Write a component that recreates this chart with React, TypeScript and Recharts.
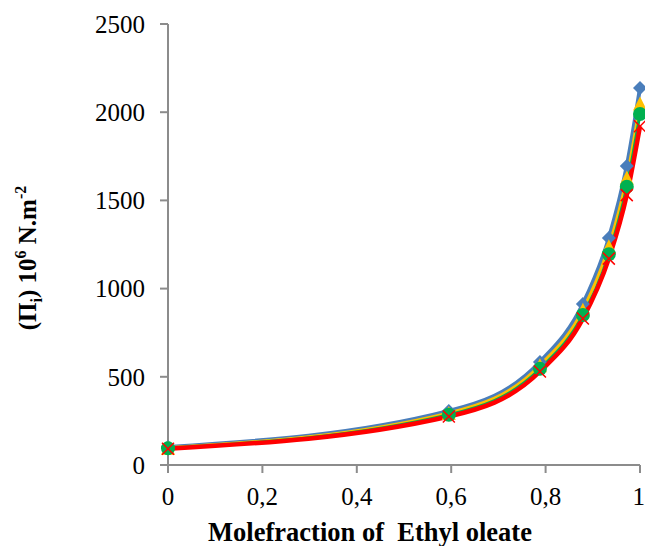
import { LineChart, Line, XAxis, YAxis, Label } from "recharts";

const molefraction = [0, 0.595, 0.788, 0.879, 0.934, 0.972, 1];
const seriesBlue = [102, 306, 584, 913, 1287, 1695, 2137];
const seriesYellow = [98, 295, 565, 880, 1240, 1630, 2050];
const seriesGreen = [95, 285, 545, 850, 1195, 1578, 1990];
const seriesRed = [92, 275, 530, 830, 1170, 1530, 1920];

const xTicks = [0, 0.2, 0.4, 0.6, 0.8, 1];
const yTicks = [0, 500, 1000, 1500, 2000, 2500];

const data = molefraction.map((x, i) => ({
  x,
  blue: seriesBlue[i],
  yellow: seriesYellow[i],
  green: seriesGreen[i],
  red: seriesRed[i],
}));

const FONT = '"Liberation Serif", "DejaVu Serif", serif';
const AXIS = "#8c8c8c";

const Diamond = (p: any) => {
  const { cx, cy } = p;
  if (cx == null || cy == null) return null;
  const s = 7;
  return <path d={`M${cx},${cy - s}L${cx + s},${cy}L${cx},${cy + s}L${cx - s},${cy}Z`} fill="#4a7ebb" />;
};

const Triangle = (p: any) => {
  const { cx, cy } = p;
  if (cx == null || cy == null) return null;
  const s = 7;
  return <path d={`M${cx},${cy - s}L${cx + s},${cy + s}L${cx - s},${cy + s}Z`} fill="#ffc000" />;
};

const Circle = (p: any) => {
  const { cx, cy } = p;
  if (cx == null || cy == null) return null;
  return <circle cx={cx} cy={cy} r={7} fill="#00b050" />;
};

const Cross = (p: any) => {
  const { cx, cy } = p;
  if (cx == null || cy == null) return null;
  const s = 6;
  return (
    <path
      d={`M${cx - s},${cy - s}L${cx + s},${cy + s}M${cx - s},${cy + s}L${cx + s},${cy - s}`}
      stroke="#ff0000"
      strokeWidth={1.5}
    />
  );
};

// rotated y title with sub/superscripts
const YTitle = () => {
  const x = 36;
  const cy = 258;
  return (
    <text
      transform={`translate(${x},${cy}) rotate(-90)`}
      textAnchor="middle"
      fontSize={25}
      fontWeight="bold"
      fill="#000"
      style={{ fontFamily: FONT }}
    >
      (Π<tspan fontSize={16} dy={6}>i</tspan>
      <tspan dy={-6}>) 10</tspan>
      <tspan fontSize={16} dy={-10}>6</tspan>
      <tspan dy={10}> N.m</tspan>
      <tspan fontSize={16} dy={-10}>-2</tspan>
    </text>
  );
};

const XTitle = () => (
  <text
    x={370}
    y={541}
    textAnchor="middle"
    fontSize={26.5}
    fontWeight="bold"
    fill="#000"
    style={{ fontFamily: FONT, whiteSpace: "pre" }}
  >
    Molefraction of  Ethyl oleate
  </text>
);

export default function App() {
  return (
    <div style={{ position: "absolute", left: 0, top: 0, background: "#fff", fontFamily: FONT }}>
      <LineChart width={645} height={546} data={data} margin={{ top: 24, right: 5, left: 0, bottom: 0 }}>
        <XAxis
          dataKey="x"
          type="number"
          domain={[0, 1]}
          ticks={xTicks}
          tickFormatter={(v: number) => String(v).replace(".", ",")}
          height={81}
          stroke={AXIS}
          strokeWidth={2}
          tickSize={8}
          tickMargin={14}
          tick={{ fill: "#000", fontSize: 25, style: { fontFamily: FONT } }}
        >
          <Label content={<XTitle />} />
        </XAxis>
        <YAxis
          type="number"
          domain={[0, 2500]}
          ticks={yTicks}
          width={168}
          stroke={AXIS}
          strokeWidth={2}
          tickSize={8}
          tickMargin={15}
          tick={{ fill: "#000", fontSize: 25, style: { fontFamily: FONT } }}
        >
          <Label content={<YTitle />} />
        </YAxis>
        <Line type="monotone" dataKey="blue" stroke="#4a7ebb" strokeWidth={4} dot={<Diamond />} isAnimationActive={false} />
        <Line type="monotone" dataKey="yellow" stroke="#ffc000" strokeWidth={3} dot={<Triangle />} isAnimationActive={false} />
        <Line type="monotone" dataKey="green" stroke="#00b050" strokeWidth={3} dot={<Circle />} isAnimationActive={false} />
        <Line type="monotone" dataKey="red" stroke="#ff0000" strokeWidth={4.5} dot={<Cross />} isAnimationActive={false} />
      </LineChart>
    </div>
  );
}
